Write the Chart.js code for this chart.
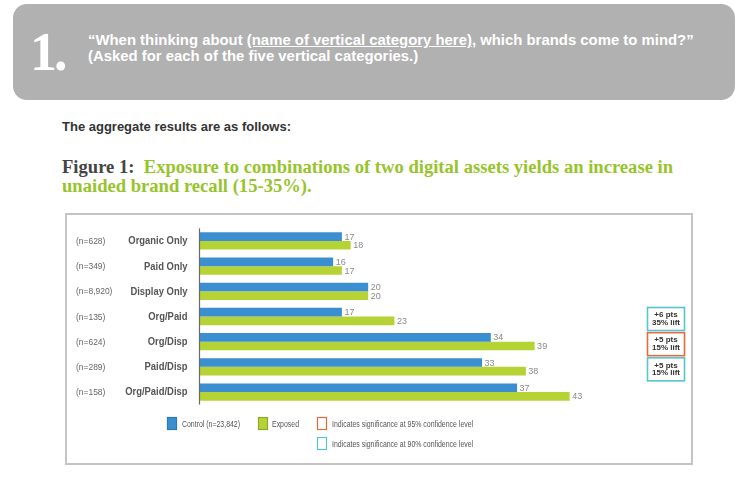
<!DOCTYPE html>
<html>
<head>
<meta charset="utf-8">
<script src="https://cdn.jsdelivr.net/npm/chart.js@4.4.1/dist/chart.umd.min.js"></script>
<style>
  html, body { margin:0; padding:0; background:#fff; }
  body { width:742px; height:477px; position:relative; overflow:hidden; font-family:"Liberation Sans", Arial, sans-serif; }
  #hdr { position:absolute; left:13px; top:4px; width:722px; height:96px; background:#b1b1b1; border-radius:14px; }
  #num { position:absolute; left:30px; top:25px; font-family:"Liberation Serif", serif; font-weight:bold; font-size:54px; line-height:55px; color:#fff; letter-spacing:-3px; }
  #q { position:absolute; left:88px; top:33px; font-size:14.9px; line-height:15.5px; font-weight:bold; color:#fff; white-space:nowrap; }
  #q u { text-decoration:underline; }
  #agg { position:absolute; left:62px; top:120px; font-size:13px; line-height:14px; font-weight:bold; color:#333; white-space:nowrap; }
  #fig { position:absolute; left:62px; top:158px; font-family:"Liberation Serif", serif; font-size:18.6px; line-height:18.5px; font-weight:bold; color:#97c42b; white-space:nowrap; }
  #fig .k { color:#444; }
  #box { position:absolute; left:65px; top:213px; width:628px; height:252px; border:2px solid #c4c4c4; box-sizing:border-box; pointer-events:none; }
  #wrap { position:absolute; left:66px; top:214px; width:626px; height:250px; }
</style>
</head>
<body>
<div id="hdr"></div>
<div id="num">1.</div>
<div id="q">“When thinking about <u>(name of vertical category here)</u>, which brands come to mind?”<br>(Asked for each of the five vertical categories.)</div>
<div id="agg">The aggregate results are as follows:</div>
<div id="fig"><span class="k">Figure 1:</span>&nbsp; Exposure to combinations of two digital assets yields an increase in<br>unaided brand recall (15-35%).</div>
<div id="wrap"><canvas id="c" width="626" height="250"></canvas></div>
<div id="box"></div>
<script>
const categories = ['Organic Only','Paid Only','Display Only','Org/Paid','Org/Disp','Paid/Disp','Org/Paid/Disp'];
const sampleSizes = ['(n=628)','(n=349)','(n=8,920)','(n=135)','(n=624)','(n=289)','(n=158)'];
const controlValues = [17,16,20,17,34,33,37];
const exposedValues = [18,17,20,23,39,38,43];
const liftLine1 = [null,null,null,'+6 pts','+5 pts','+5 pts',null];
const liftLine2 = [null,null,null,'35% lift','15% lift','15% lift',null];
const significance = [null,null,null,'90','95','90',null];
const seriesNames = ['Control (n=23,842)','Exposed'];
const sigNames = ['Indicates significance at 95% confidence level','Indicates significance at 90% confidence level'];

const BLUE = '#3b8fd0', GREEN = '#b5d334', ORANGE = '#e8693f', CYAN = '#55c5d0';
const SANS = '"Liberation Sans", Arial, sans-serif';

function txt(ctx, s, x, y, font, color, align, sx) {
  ctx.save();
  ctx.font = font; ctx.fillStyle = color; ctx.textAlign = align; ctx.textBaseline = 'middle';
  ctx.translate(x, y); ctx.scale(sx, 1);
  ctx.fillText(s, 0, 0);
  ctx.restore();
}

const deco = {
  id: 'deco',
  afterDatasetsDraw(chart) {
    const ctx = chart.ctx, ca = chart.chartArea, y = chart.scales.y;
    ctx.save();
    // axis line
    ctx.strokeStyle = '#6a6a6a'; ctx.lineWidth = 1.2;
    ctx.beginPath(); ctx.moveTo(ca.left - 0.5, ca.top); ctx.lineTo(ca.left - 0.5, ca.bottom); ctx.stroke();
    // value labels
    chart.data.datasets.forEach((ds, di) => {
      chart.getDatasetMeta(di).data.forEach((bar, i) => {
        txt(ctx, String(ds.data[i]), bar.x + 2.5, bar.y + 0.5, '9.5px ' + SANS, '#8a8a8a', 'left', 0.95);
      });
    });
    // category labels, sample sizes, lift boxes
    categories.forEach((c, i) => {
      const py = y.getPixelForValue(i);
      txt(ctx, c, ca.left - 12.5, py + 0.5, 'bold 10.6px ' + SANS, '#555', 'right', 0.89);
      txt(ctx, sampleSizes[i], 10, py + 0.5, '9.5px ' + SANS, '#666', 'left', 0.89);
      if (liftLine1[i]) {
        const bx = 581.5, bw = 37, bh = 23, by = py + 2.5 - bh / 2;
        ctx.strokeStyle = significance[i] === '95' ? ORANGE : CYAN; ctx.lineWidth = 1.6;
        ctx.strokeRect(bx, by, bw, bh);
        txt(ctx, liftLine1[i], bx + bw / 2, by + 7.6, 'bold 8px ' + SANS, '#333', 'center', 1);
        txt(ctx, liftLine2[i], bx + bw / 2, by + 15.2, 'bold 8px ' + SANS, '#333', 'center', 1);
      }
    });
    // legend
    const sq = (x, yy, fill, stroke) => {
      if (fill) { ctx.fillStyle = fill; ctx.fillRect(x, yy, 10, 13); }
      ctx.strokeStyle = stroke; ctx.lineWidth = 1.2; ctx.strokeRect(x + 0.5, yy + 0.5, 9, 12);
    };
    const LF = '9.5px ' + SANS, LS = 0.73;
    sq(101, 203, BLUE, '#2f79b3');
    txt(ctx, seriesNames[0], 116, 210, LF, '#555', 'left', LS);
    sq(192, 203, GREEN, '#8fa82a');
    txt(ctx, seriesNames[1], 206, 210, LF, '#555', 'left', LS);
    sq(251, 203, '#fff', ORANGE);
    txt(ctx, sigNames[0], 266, 210, LF, '#555', 'left', LS);
    sq(251, 223, '#fff', CYAN);
    txt(ctx, sigNames[1], 266, 230, LF, '#555', 'left', LS);
    ctx.restore();
  }
};

new Chart(document.getElementById('c'), {
  type: 'bar',
  data: {
    labels: categories,
    datasets: [
      { label: seriesNames[0], data: controlValues, backgroundColor: BLUE, borderWidth: 0 },
      { label: seriesNames[1], data: exposedValues, backgroundColor: GREEN, borderWidth: 0 }
    ]
  },
  options: {
    indexAxis: 'y',
    responsive: false,
    animation: false,
    devicePixelRatio: 1,
    layout: { padding: { left: 134, right: 26, top: 14.4, bottom: 59.4 } },
    datasets: { bar: { categoryPercentage: 0.686, barPercentage: 1.0 } },
    scales: {
      x: { display: false, min: 0.8, max: 54 },
      y: { display: false }
    },
    plugins: { legend: { display: false }, tooltip: { enabled: false } }
  },
  plugins: [deco]
});
</script>
</body>
</html>
